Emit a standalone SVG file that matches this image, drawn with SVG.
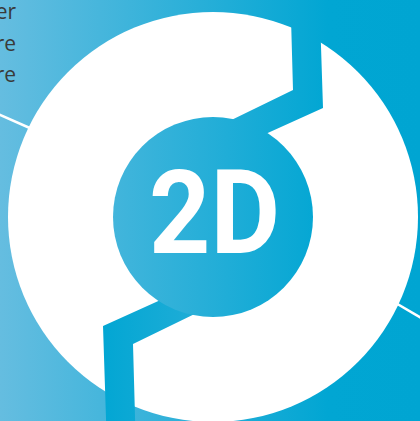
<svg xmlns="http://www.w3.org/2000/svg" width="420" height="421" viewBox="0 0 420 421">
  <defs>
    <linearGradient id="bg" gradientUnits="userSpaceOnUse" x1="0" y1="0" x2="420" y2="0">
      <stop offset="0" stop-color="#65bde0"/>
      <stop offset="0.78" stop-color="#01a6d3"/>
      <stop offset="1" stop-color="#00a5d2"/>
    </linearGradient>
    <polygon id="band" points="215,128 293,90 290.5,0 319.5,0 323,108 250,141"/>
  </defs>
  <style>
    .blue { fill: url(#bg); }
    .ring { fill: #ffffff; }
    .conn { stroke: #ffffff; stroke-width: 2.5; fill: none; }
    .side { font-family: "Open Sans", "Liberation Sans", sans-serif; font-size: 21px; fill: #3a3a3a; text-anchor: end; }
    .big { font-family: "Roboto", "Liberation Sans", sans-serif; font-weight: bold; font-size: 116px; fill: #ffffff; }
  </style>
  <rect class="blue" x="0" y="0" width="420" height="421"/>
  <g id="connectors">
    <line class="conn" x1="-2" y1="114" x2="32" y2="129"/>
    <line class="conn" x1="394" y1="302" x2="423" y2="319"/>
  </g>
  <g id="side-text">
    <text class="side" x="16" y="19">er</text>
    <text class="side" x="16" y="51">re</text>
    <text class="side" x="16" y="82">re</text>
  </g>
  <g id="cycle">
    <circle class="ring" cx="213" cy="217" r="205"/>
    <use href="#band" class="blue"/>
    <use href="#band" class="blue" transform="rotate(180 213 217)"/>
    <circle class="blue" cx="213" cy="217" r="100"/>
  </g>
  <g id="label-2d">
    <text class="big" x="149" y="253" textLength="131" lengthAdjust="spacingAndGlyphs">2D</text>
  </g>
</svg>
